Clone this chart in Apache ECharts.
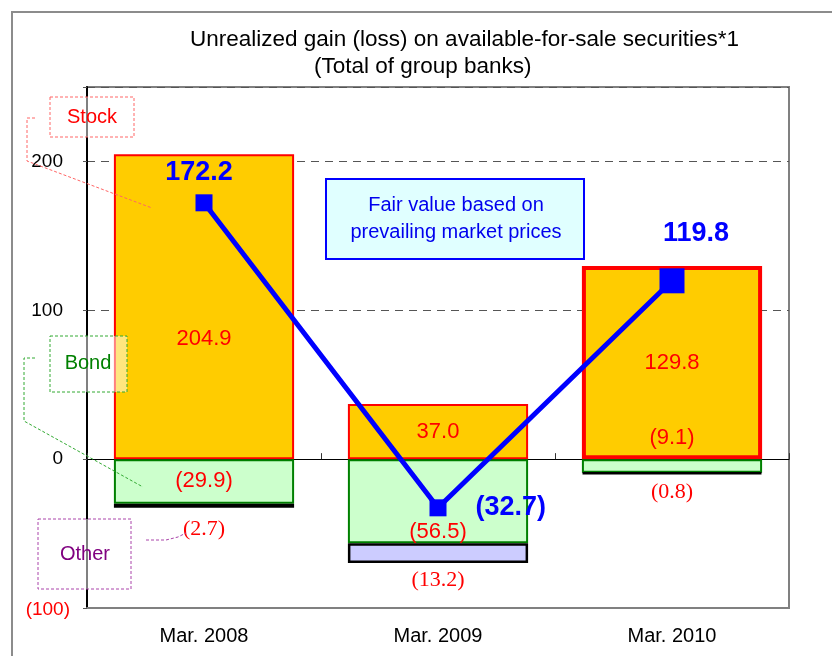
<!DOCTYPE html>
<html>
<head>
<meta charset="utf-8">
<script src="https://cdn.jsdelivr.net/npm/echarts@6/dist/echarts.min.js"></script>
<style>html,body{margin:0;padding:0;background:#fff}#c{width:832px;height:656px}</style>
</head>
<body>
<div id="c"></div>
<script>
const categories = ['Mar. 2008', 'Mar. 2009', 'Mar. 2010'];
const stock = [204.9, 37.0, 129.8];
const bond = [-29.9, -56.5, -9.1];
const other = [-2.7, -13.2, -0.8];
const fairValue = [172.2, -32.7, 119.8];
const seriesNames = ['Stock', 'Bond', 'Other'];
const titleLines = ['Unrealized gain (loss) on available-for-sale securities*1', '(Total of group banks)'];
const noteText = 'Fair value based on\nprevailing market prices';

function fmt(v) {
  return v < 0 ? '(' + Math.abs(v).toFixed(1) + ')' : v.toFixed(1);
}

const FONT = 'Liberation Sans, Arial, sans-serif';
const SERIF = 'Liberation Serif, Times New Roman, serif';

// per-item label placement tweaks
const stockLabel = [{offset: [0, 32]}, {}, {}];
const bondLabel = [{position: 'inside'}, {position: 'insideBottom', distance: 0}, {position: 'top', distance: 10}];
const otherLabel = [{distance: 11}, {distance: 6}, {distance: 7}];
const lineLabel = [
  {position: 'top', distance: 8, offset: [-5, 0]},
  {position: 'right', distance: 29},
  {position: 'top', distance: 21, offset: [24, 0]}
];
const lineSym = [17, 17, 25];

const chart = echarts.init(document.getElementById('c'));
chart.setOption({
  animation: false,
  backgroundColor: '#fff',
  title: [
    {text: titleLines[0], left: 185, top: 23, textStyle: {fontFamily: FONT, fontSize: 22.5, fontWeight: 'normal', color: '#000'}},
    {text: titleLines[1], left: 309, top: 50, textStyle: {fontFamily: FONT, fontSize: 22.5, fontWeight: 'normal', color: '#000'}}
  ],
  grid: {left: 87, right: 43, top: 87, bottom: 48, show: true, borderColor: '#808080', borderWidth: 2, backgroundColor: 'transparent'},
  xAxis: [
    {
      type: 'category', data: categories, position: 'bottom',
      axisLine: {onZero: false, lineStyle: {color: '#808080', width: 2}},
      axisTick: {show: false},
      axisLabel: {fontFamily: FONT, fontSize: 20, color: '#000', margin: 18}
    },
    {
      type: 'category', data: categories, position: 'top',
      axisLine: {onZero: true, lineStyle: {color: '#000', width: 1}},
      axisTick: {show: true, length: 6, lineStyle: {color: '#333'}},
      axisLabel: {show: false}
    }
  ],
  yAxis: {
    type: 'value', min: -100, max: 250, interval: 100,
    axisLine: {show: true, onZero: false, lineStyle: {color: '#000', width: 2}},
    axisTick: {show: true, length: 6, lineStyle: {color: '#555', type: 'dashed'}},
    splitLine: {lineStyle: {color: '#555', type: [8, 6], width: 1}},
    axisLabel: {
      fontFamily: FONT, fontSize: 19, color: '#000', margin: 24,
      formatter: function (v) {
        if (v === 250) return '';
        if (v < 0) return '{neg|(' + Math.abs(v) + ')}';
        return String(v);
      },
      rich: {neg: {color: '#FF0000', fontFamily: FONT, fontSize: 19, padding: [4, -7, 0, 0]}}
    }
  },
  series: [
    {
      name: seriesNames[0], type: 'bar', stack: 'a', barWidth: '77%', z: 2,
      data: stock.map((v, i) => ({
        value: v,
        itemStyle: i === 2 ? {borderWidth: 4} : {},
        label: stockLabel[i]
      })),
      itemStyle: {color: '#FFCC00', borderColor: '#FF0000', borderWidth: 2},
      label: {show: true, position: 'inside', formatter: p => fmt(p.value), color: '#FF0000', fontFamily: FONT, fontSize: 22}
    },
    {
      name: seriesNames[1], type: 'bar', stack: 'a', barWidth: '77%', z: 2,
      data: bond.map((v, i) => ({value: v, label: bondLabel[i]})),
      itemStyle: {color: '#CCFFCC', borderColor: '#008000', borderWidth: 2},
      label: {show: true, formatter: p => fmt(p.value), color: '#FF0000', fontFamily: FONT, fontSize: 22}
    },
    {
      name: seriesNames[2], type: 'bar', stack: 'a', barWidth: '77%', z: 2,
      data: other.map((v, i) => ({value: v, label: otherLabel[i]})),
      itemStyle: {color: '#CCCCFF', borderColor: '#000', borderWidth: 2.5},
      label: {show: true, position: 'bottom', formatter: p => fmt(p.value), color: '#FF0000', fontFamily: SERIF, fontSize: 22}
    },
    {
      name: 'Fair value', type: 'line', z: 5,
      data: fairValue.map((v, i) => ({value: v, symbolSize: lineSym[i], label: lineLabel[i]})),
      symbol: 'rect',
      lineStyle: {color: '#0000FF', width: 5},
      itemStyle: {color: '#0000FF'},
      label: {show: true, formatter: p => fmt(p.value), color: '#0000FF', fontFamily: FONT, fontSize: 27, fontWeight: 'bold'}
    }
  ],
  graphic: [
    {type: 'rect', z: 0, silent: true, shape: {x: 12, y: 12, width: 840, height: 700}, style: {fill: 'none', stroke: '#8c8c8c', lineWidth: 2}},
    // Stock callout
    {type: 'polyline', z: 50, silent: true, shape: {points: [[35, 118], [27, 118], [27, 161], [152, 208]]}, style: {fill: 'none', stroke: '#FF6666', lineWidth: 1, lineDash: [3, 2]}},
    {type: 'rect', z: 50, silent: true, shape: {x: 50, y: 97, width: 84, height: 40}, style: {fill: 'rgba(255,255,255,0.5)', stroke: '#FF6666', lineWidth: 1, lineDash: [3, 2]}},
    {type: 'text', z: 51, silent: true, style: {text: seriesNames[0], x: 92, y: 117, align: 'center', verticalAlign: 'middle', fill: '#FF0000', font: '20px ' + FONT}},
    // Bond callout
    {type: 'polyline', z: 50, silent: true, shape: {points: [[35, 358], [24, 358], [24, 421], [143, 487]]}, style: {fill: 'none', stroke: '#33AA33', lineWidth: 1, lineDash: [3, 2]}},
    {type: 'rect', z: 50, silent: true, shape: {x: 50, y: 336, width: 77, height: 56}, style: {fill: 'rgba(255,255,255,0.5)', stroke: '#33AA33', lineWidth: 1, lineDash: [3, 2]}},
    {type: 'text', z: 51, silent: true, style: {text: seriesNames[1], x: 88, y: 363, align: 'center', verticalAlign: 'middle', fill: '#008000', font: '20px ' + FONT}},
    // Other callout
    {type: 'polyline', z: 50, silent: true, shape: {points: [[146, 540], [166, 540], [178, 537], [186, 533]]}, style: {fill: 'none', stroke: '#AA44AA', lineWidth: 1, lineDash: [3, 2]}},
    {type: 'rect', z: 50, silent: true, shape: {x: 38, y: 519, width: 93, height: 70}, style: {fill: 'rgba(255,255,255,0.5)', stroke: '#AA44AA', lineWidth: 1, lineDash: [3, 2]}},
    {type: 'text', z: 51, silent: true, style: {text: seriesNames[2], x: 85, y: 554, align: 'center', verticalAlign: 'middle', fill: '#800080', font: '20px ' + FONT}},
    // Fair value note
    {type: 'rect', z: 50, silent: true, shape: {x: 326, y: 179, width: 258, height: 80}, style: {fill: '#E0FFFF', stroke: '#0000FF', lineWidth: 2}},
    {type: 'text', z: 51, silent: true, style: {text: noteText, x: 456, y: 219, align: 'center', verticalAlign: 'middle', fill: '#0000EE', font: '20px ' + FONT, lineHeight: 27}}
  ]
});
</script>
</body>
</html>
